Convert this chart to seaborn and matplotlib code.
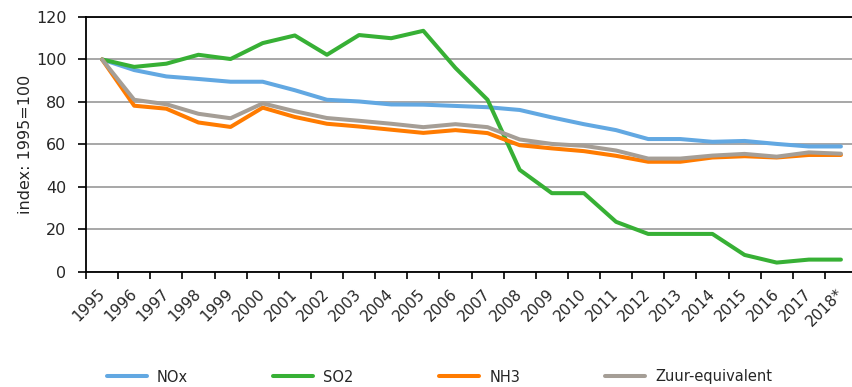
import matplotlib
matplotlib.use("Agg")
import matplotlib.pyplot as plt
import numpy as np
import pandas as pd
import seaborn as sns

years = ["1995", "1996", "1997", "1998", "1999", "2000", "2001", "2002",
         "2003", "2004", "2005", "2006", "2007", "2008", "2009", "2010",
         "2011", "2012", "2013", "2014", "2015", "2016", "2017", "2018*"]

nox = [100, 95, 92, 90.8, 89.5, 89.5, 85.5, 81, 80.2, 78.8, 78.7, 78.1,
       77.5, 76.2, 72.7, 69.5, 66.7, 62.5, 62.5, 61.2, 61.6, 60.2, 59, 59]
so2 = [100, 96.5, 98, 102.2, 100.2, 107.7, 111.3, 102.2, 111.5, 110, 113.5,
       96, 81, 48, 37, 37, 23.5, 17.8, 17.8, 17.8, 7.9, 4.3, 5.7, 5.7]
nh3 = [100, 78.2, 76.8, 70.3, 68.2, 77.3, 72.9, 69.7, 68.4, 66.9, 65.4,
       66.7, 65.3, 59.6, 58.1, 56.8, 54.6, 51.8, 51.8, 53.8, 54.4, 53.8, 55, 55]
zuur = [100, 81, 78.9, 74.4, 72.3, 79.3, 75.6, 72.4, 71.1, 69.7, 68.1,
        69.5, 68.1, 62.3, 60.2, 59.3, 57.1, 53.3, 53.3, 54.7, 55.5, 54.2,
        56.2, 55.6]

series_names = ["NOx", "SO2", "NH3", "Zuur-equivalent"]
colors = ["#62A8E2", "#37B035", "#FF7B00", "#A59E96"]

df = pd.DataFrame({
    "pos": np.tile(np.arange(len(years)), len(series_names)),
    "value": np.concatenate([nox, so2, nh3, zuur]),
    "stof": np.repeat(series_names, len(years)),
})

sns.set_style("white")
plt.rcParams["font.family"] = ["DejaVu Sans"]
FS_AX = 11.5
FS_X = 11
FS_LEG = 10.5

fig = plt.figure(figsize=(8.52, 3.87), dpi=100)
ax = fig.add_axes([86 / 852, 1 - 271.7 / 387, (857 - 86) / 852, (271.7 - 17) / 387])

sns.lineplot(data=df, x="pos", y="value", hue="stof", hue_order=series_names,
             palette=colors, linewidth=2.9, ax=ax, legend=False,
             solid_capstyle="round", solid_joinstyle="round")

ax.set_xlim(-0.5, len(years) - 0.5)
ax.set_ylim(0, 120)
ax.set_yticks(np.arange(0, 121, 20))
ax.yaxis.grid(True, color="#A0A0A0", linewidth=1.3)
ax.set_axisbelow(True)

for side in ["left", "bottom", "top"]:
    ax.spines[side].set_visible(True)
    ax.spines[side].set_color("black")
    ax.spines[side].set_linewidth(1.3)
ax.spines["right"].set_visible(False)

# year labels at category centres, tick marks on category boundaries
ax.set_xticks(np.arange(len(years)))
ax.set_xticklabels(years, rotation=45, ha="right", va="center",
                   rotation_mode="anchor", fontsize=FS_X)
ax.set_xticks(np.arange(-0.5, len(years) + 0.5, 1), minor=True)
ax.tick_params(axis="x", which="major", length=0, pad=14)
ax.tick_params(axis="x", which="minor", length=5, width=1.2, color="black",
               direction="out", bottom=True)

ax.tick_params(axis="y", length=6, width=1.2, color="black", direction="out",
               left=True, pad=8, labelsize=FS_AX)
ax.set_xlabel("")
ax.set_ylabel("index: 1995=100", fontsize=FS_AX)
ax.yaxis.set_label_coords(-0.069, 0.5)

handles = [plt.Line2D([], [], color=c, linewidth=2.9, solid_capstyle="round")
           for c in colors]
fig.legend(handles, series_names, loc="center left",
           bbox_to_anchor=(107 / 852, 1 - 377 / 387),
           bbox_transform=fig.transFigure, ncol=4, frameon=False,
           fontsize=FS_LEG, handlelength=2.74, handletextpad=0.69,
           columnspacing=5.85, borderpad=0, borderaxespad=0)

fig.savefig("out.png", dpi=100)
